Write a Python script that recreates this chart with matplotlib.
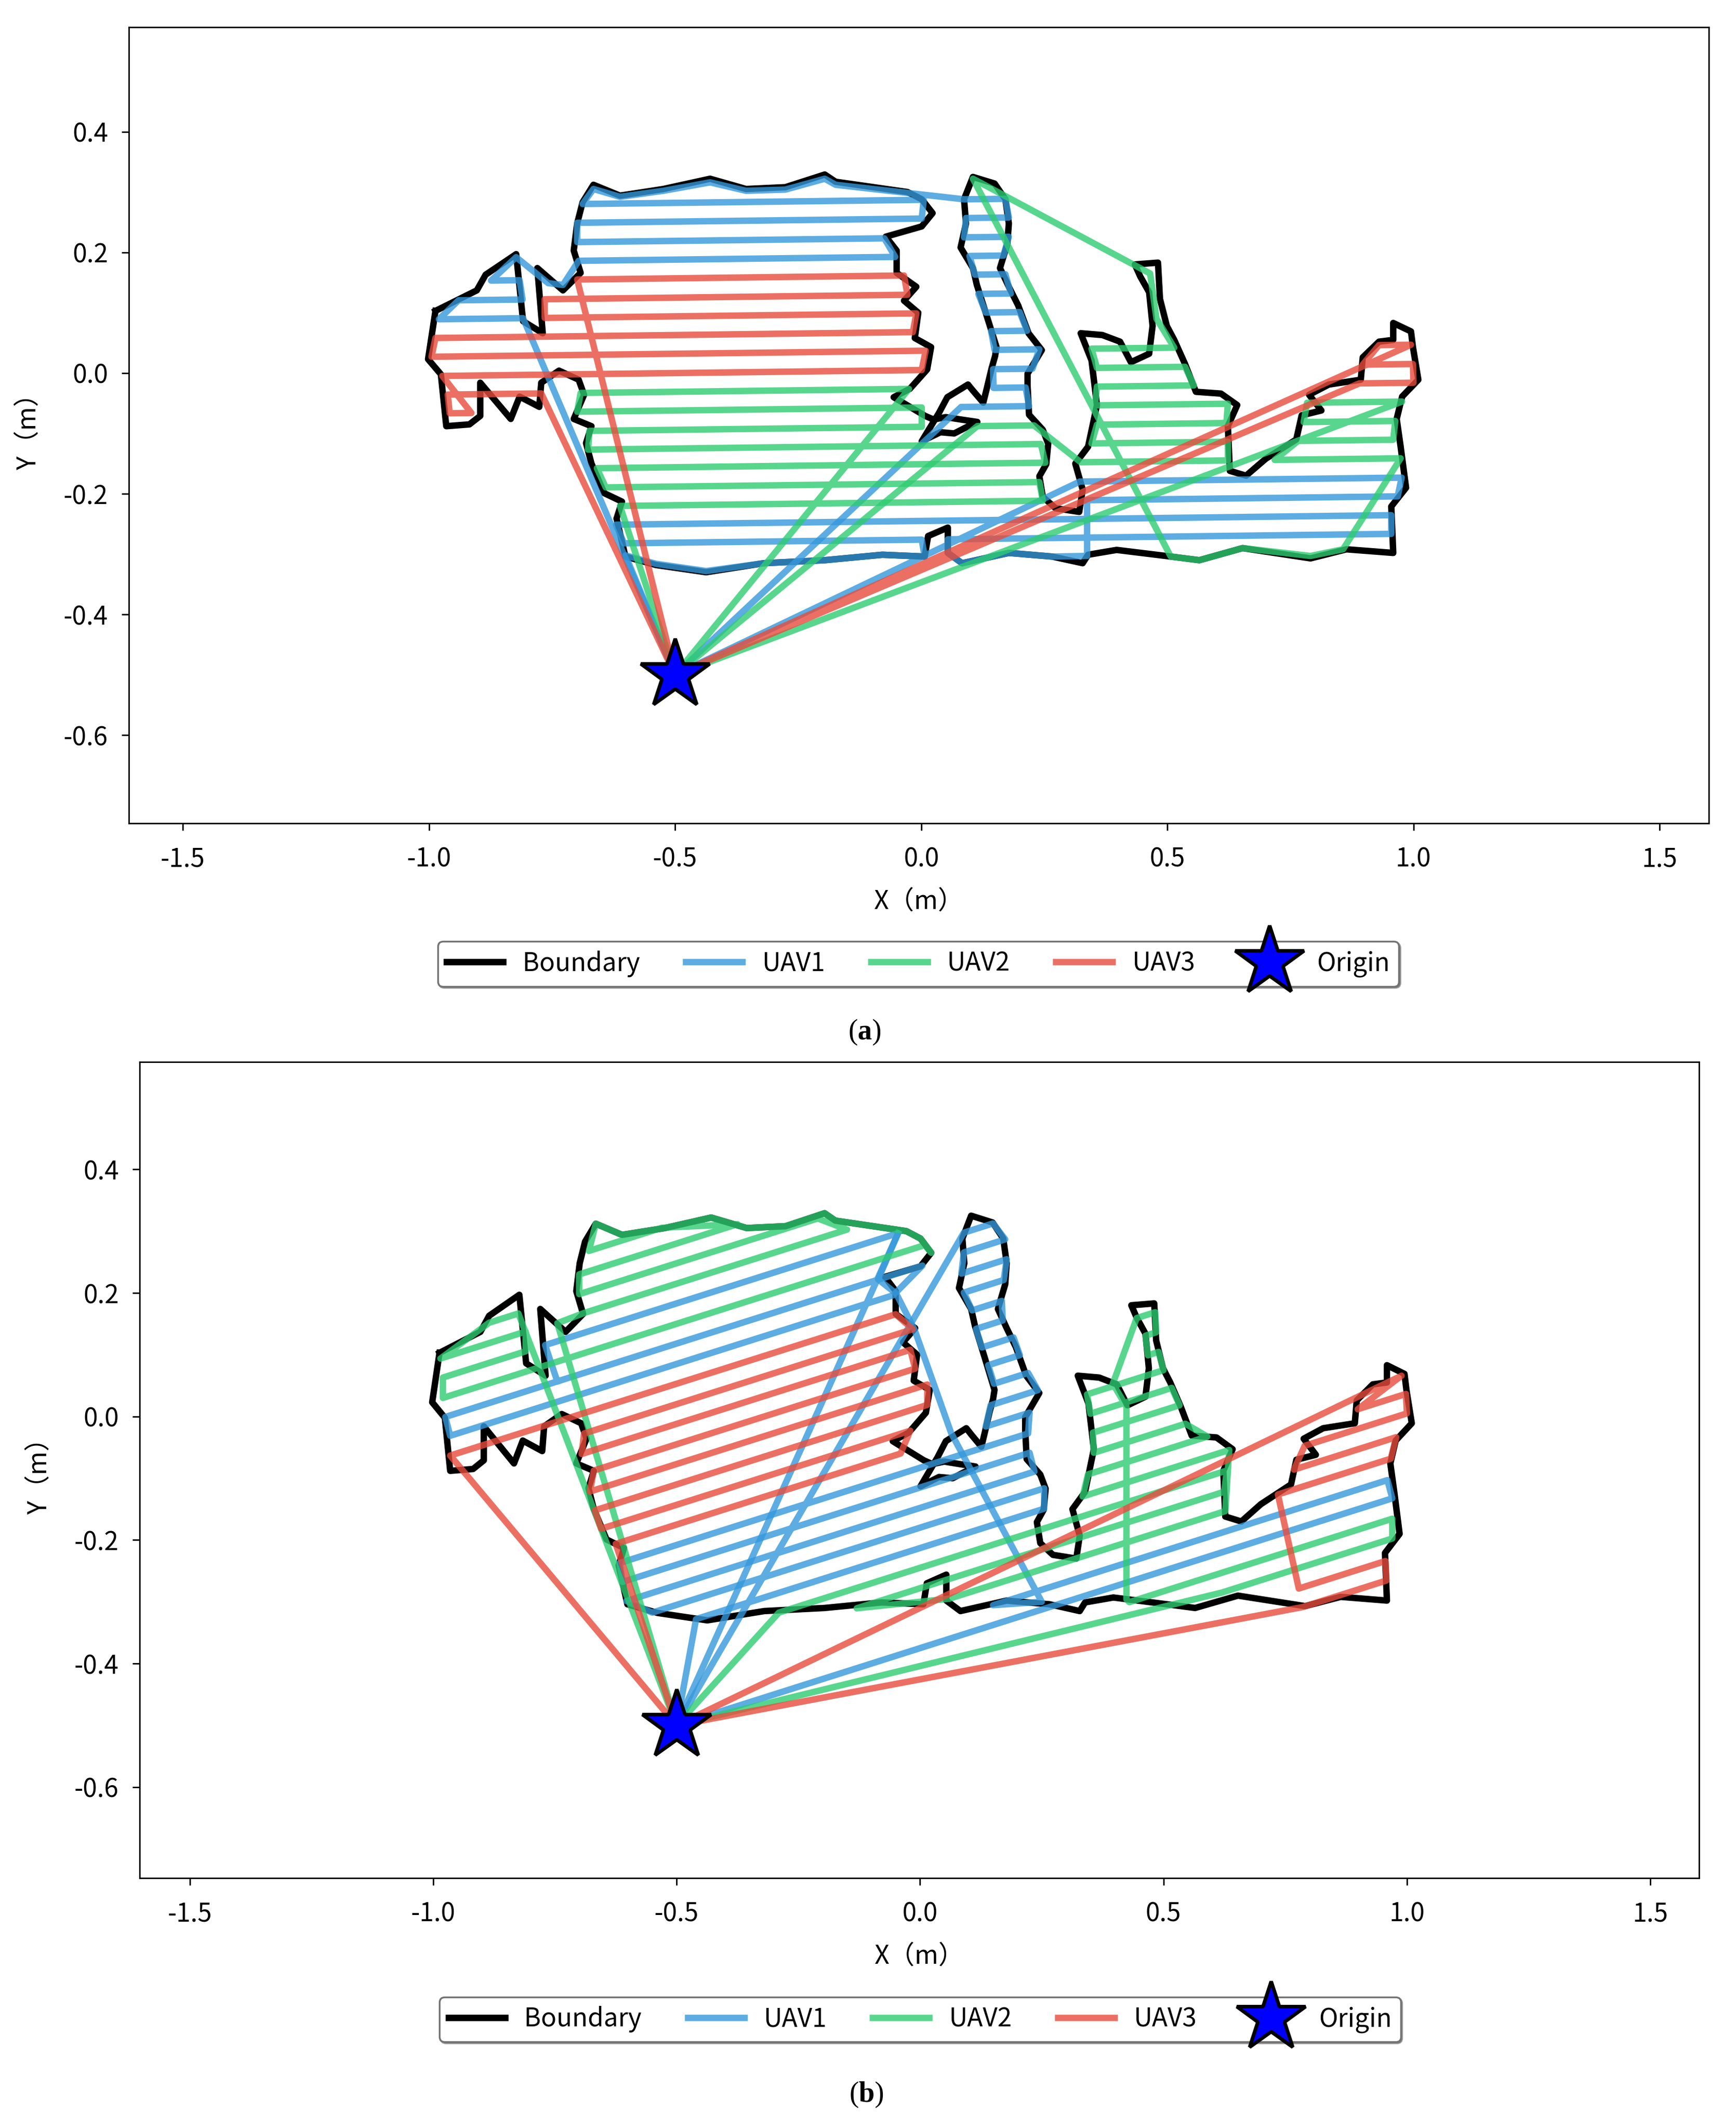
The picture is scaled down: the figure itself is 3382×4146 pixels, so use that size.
import matplotlib.pyplot as plt
from matplotlib.lines import Line2D

plt.rcParams['font.family'] = ['Noto Sans CJK SC', 'DejaVu Sans']
plt.rcParams['axes.unicode_minus'] = False
plt.rcParams['mathtext.fontset'] = 'custom'
plt.rcParams['mathtext.rm'] = 'Liberation Serif'
plt.rcParams['mathtext.bf'] = 'Liberation Serif:bold'

##### boundary of the survey area (same in both panels) #####
boundary_x = [-0.987, -0.903, -0.885, -0.823, -0.809, -0.769, -0.780, -0.728, -0.692, -0.706,
              -0.699, -0.688, -0.666, -0.612, -0.524, -0.429, -0.356, -0.276, -0.196, -0.174,
              -0.028, 0.001, 0.023, 0.001, -0.072, -0.050, -0.050, -0.010, -0.035, -0.006,
              -0.013, 0.020, 0.012, -0.023, -0.056, 0.008, 0.025, 0.050, 0.081, 0.114,
              0.091, 0.067, 0.039, 0.001, 0.036, 0.053, 0.095, 0.105, 0.126, 0.133,
              0.143, 0.150, 0.153, 0.131, 0.113, 0.105, 0.080, 0.091, 0.087, 0.105,
              0.149, 0.171, 0.178, 0.175, 0.160, 0.178, 0.197, 0.218, 0.245, 0.216,
              0.216, 0.219, 0.247, 0.258, 0.254, 0.240, 0.247, 0.273, 0.321, 0.328,
              0.313, 0.339, 0.357, 0.346, 0.324, 0.368, 0.404, 0.426, 0.463, 0.470,
              0.463, 0.445, 0.434, 0.481, 0.485, 0.499, 0.514, 0.536, 0.558, 0.609,
              0.642, 0.623, 0.627, 0.660, 0.700, 0.762, 0.773, 0.813, 0.788, 0.828,
              0.893, 0.897, 0.930, 0.959, 0.959, 0.995, 0.999, 1.010, 0.977, 0.966,
              0.974, 0.985, 0.955, 0.959, 0.864, 0.791, 0.653, 0.565, 0.507, 0.397,
              0.339, 0.328, 0.266, 0.178, 0.083, 0.054, 0.054, 0.014, 0.007, -0.079,
              -0.196, -0.320, -0.437, -0.539, -0.601, -0.619, -0.608, -0.644, -0.670, -0.681,
              -0.670, -0.706, -0.685, -0.696, -0.736, -0.772, -0.776, -0.816, -0.834, -0.896,
              -0.896, -0.918, -0.965, -0.976, -1.002]
boundary_y = [0.103, 0.137, 0.163, 0.197, 0.086, 0.066, 0.174, 0.137, 0.166, 0.203,
              0.248, 0.283, 0.312, 0.294, 0.305, 0.322, 0.305, 0.308, 0.329, 0.317,
              0.300, 0.288, 0.265, 0.243, 0.226, 0.203, 0.166, 0.143, 0.120, 0.100,
              0.058, 0.043, 0.006, -0.026, -0.040, -0.071, -0.077, -0.073, -0.077, -0.081,
              -0.090, -0.100, -0.098, -0.113, -0.066, -0.040, -0.019, -0.029, -0.049, -0.026,
              0.008, 0.028, 0.043, 0.100, 0.146, 0.174, 0.208, 0.248, 0.288, 0.325,
              0.314, 0.288, 0.248, 0.214, 0.174, 0.143, 0.112, 0.066, 0.038, -0.001,
              -0.021, -0.069, -0.094, -0.117, -0.151, -0.171, -0.205, -0.224, -0.230, -0.193,
              -0.150, -0.122, -0.053, 0.021, 0.066, 0.063, 0.052, 0.018, 0.032, 0.078,
              0.134, 0.160, 0.180, 0.183, 0.123, 0.078, 0.055, 0.015, -0.031, -0.034,
              -0.053, -0.088, -0.162, -0.170, -0.142, -0.110, -0.070, -0.062, -0.036, -0.019,
              -0.011, 0.026, 0.052, 0.055, 0.083, 0.069, 0.043, -0.011, -0.039, -0.076,
              -0.122, -0.190, -0.221, -0.298, -0.292, -0.307, -0.290, -0.310, -0.304, -0.293,
              -0.301, -0.315, -0.304, -0.298, -0.315, -0.298, -0.256, -0.270, -0.304, -0.301,
              -0.310, -0.315, -0.330, -0.318, -0.304, -0.241, -0.213, -0.199, -0.150, -0.116,
              -0.088, -0.076, -0.036, -0.011, 0.004, -0.016, -0.056, -0.039, -0.076, -0.016,
              -0.071, -0.085, -0.088, -0.002, 0.023]

origin = (-0.5, -0.5)

##### panel (a): almost horizontal sweep lines #####
# ('S', k, x) = point at x on sweep line k
levels_a = [0.287, 0.256, 0.224, 0.193, 0.162, 0.130, 0.099, 0.068, 0.037, 0.005,
            -0.026, -0.057, -0.089, -0.120, -0.151, -0.183, -0.214, -0.245, -0.276]
tilt_a = 0.01

uav1_a = [
    [origin, ('S', 6, -0.809), ('S', 6, -0.980), ('S', 5, -0.940), ('S', 5, -0.810),
     ('S', 4, -0.816), ('S', 4, -0.874), (-0.823, 0.192), (-0.758, 0.149), (-0.728, 0.146),
     ('S', 3, -0.696), ('S', 3, -0.053), ('S', 2, -0.075), ('S', 2, -0.699),
     ('S', 1, -0.699), ('S', 1, 0.001), ('S', 0, 0.005), ('S', 0, -0.688),
     (-0.666, 0.305), (-0.612, 0.292), (-0.524, 0.302), (-0.429, 0.316), (-0.356, 0.302),
     (-0.276, 0.304), (-0.196, 0.322), (-0.174, 0.312),
     ('S', 0, 0.087), ('S', 0, 0.171), ('S', 1, 0.178), ('S', 1, 0.091), ('S', 2, 0.087),
     ('S', 2, 0.178), ('S', 3, 0.167), ('S', 3, 0.098), ('S', 4, 0.109), ('S', 4, 0.171),
     ('S', 5, 0.182), ('S', 5, 0.116), ('S', 6, 0.131), ('S', 6, 0.200), ('S', 7, 0.215),
     ('S', 7, 0.142), ('S', 8, 0.149), ('S', 8, 0.240), ('S', 9, 0.226), ('S', 9, 0.146),
     ('S', 10, 0.147), ('S', 10, 0.212), ('S', 11, 0.219), ('S', 11, 0.081), origin],
    [origin, ('S', 15, 0.322), ('S', 15, 0.976), ('S', 16, 0.968), ('S', 16, 0.337),
     (0.337, -0.303), (0.266, -0.304), (0.178, -0.298), (0.083, -0.315), (0.054, -0.298),
     ('S', 18, 0.054), ('S', 18, 0.955), ('S', 17, 0.955), ('S', 17, -0.620),
     ('S', 18, -0.604), ('S', 18, 0.001), (0.007, -0.304), (-0.079, -0.301),
     (-0.196, -0.310), (-0.320, -0.315), (-0.437, -0.328), (-0.539, -0.316),
     (-0.601, -0.302), origin],
]
uav2_a = [
    [origin, ('S', 10, -0.025), ('S', 10, -0.692), ('S', 11, -0.699), ('S', 11, 0.001),
     ('S', 12, 0.001), ('S', 12, -0.674), ('S', 13, -0.677), ('S', 13, 0.243),
     ('S', 14, 0.252), ('S', 14, -0.659), ('S', 15, -0.641), ('S', 15, 0.240),
     ('S', 16, 0.247), ('S', 16, -0.612), origin],
    [origin, ('S', 12, 0.114), ('S', 12, 0.229), ('S', 14, 0.324), ('S', 14, 0.623),
     ('S', 13, 0.623), ('S', 13, 0.346), ('S', 12, 0.357), ('S', 12, 0.620),
     ('S', 11, 0.623), ('S', 11, 0.353), ('S', 10, 0.357), ('S', 10, 0.554),
     ('S', 9, 0.536), ('S', 9, 0.357), ('S', 8, 0.346), ('S', 8, 0.514),
     (0.478, 0.090), (0.465, 0.165), (0.105, 0.322), (0.507, -0.304), (0.565, -0.310),
     (0.653, -0.290), (0.791, -0.303), (0.857, -0.292),
     ('S', 14, 0.974), ('S', 14, 0.718), ('S', 13, 0.766), ('S', 13, 0.959),
     ('S', 12, 0.963), ('S', 12, 0.777), ('S', 11, 0.784), ('S', 11, 0.977), origin],
]
uav3_a = [
    [origin, ('S', 4, -0.699), ('S', 4, -0.035), ('S', 5, -0.028), ('S', 5, -0.765),
     ('S', 6, -0.765), ('S', 6, -0.010), ('S', 7, -0.017), ('S', 7, -0.987),
     ('S', 8, -0.995), ('S', 8, 0.009), ('S', 9, 0.001), ('S', 9, -0.973),
     ('S', 11, -0.914), ('S', 11, -0.958), ('S', 10, -0.962), ('S', 10, -0.772), origin],
    [origin, ('S', 10, 0.890), ('S', 10, 1.000), ('S', 9, 0.999), ('S', 9, 0.897),
     ('S', 8, 0.930), ('S', 8, 0.995), origin],
]

##### panel (b): tilted sweep lines #####
levels_b = [0.470, 0.438, 0.405, 0.373, 0.340, 0.308, 0.275, 0.243, 0.210, 0.178,
            0.145, 0.113, 0.080, 0.048, 0.015, -0.018, -0.050, -0.083, -0.115, -0.148,
            -0.180, -0.213, -0.245, -0.278, -0.310, -0.343, -0.375, -0.408, -0.440, -0.473,
            -0.505]
tilt_b = 0.25

uav1_b = [
    [origin, ('S', 5, -0.045), ('S', 5, -0.770), ('S', 7, -0.745), ('S', 7, 0.005),
     ('S', 8, -0.055), ('S', 8, -0.965), ('S', 7, -0.975), ('S', 7, -0.745)],
    [origin, ('S', 6, 0.090), ('S', 6, 0.150), ('S', 7, 0.175), ('S', 7, 0.090),
     ('S', 8, 0.085), ('S', 8, 0.178), ('S', 9, 0.172), ('S', 9, 0.090),
     ('S', 10, 0.107), ('S', 10, 0.168), ('S', 11, 0.170), ('S', 11, 0.115),
     ('S', 12, 0.127), ('S', 12, 0.192), ('S', 13, 0.205), ('S', 13, 0.140),
     ('S', 14, 0.152), ('S', 14, 0.222), ('S', 15, 0.242), ('S', 15, 0.145),
     ('S', 16, 0.135), ('S', 16, 0.225), ('S', 17, 0.222), ('S', 17, -0.617),
     ('S', 18, -0.611), ('S', 18, 0.225), ('S', 19, 0.235), ('S', 19, -0.603),
     ('S', 20, -0.550), ('S', 20, 0.255), ('S', 21, 0.255), ('S', 21, -0.460), origin],
    [('S', 5, -0.045), (-0.086, 0.222), (-0.049, 0.199), (-0.011, 0.140), (0.064, -0.027),
     (0.250, -0.300), ('S', 25, 0.150), ('S', 25, 0.960), ('S', 26, 0.970),
     ('S', 26, 0.310), origin],
]
uav2_b = [
    [origin, (-0.745, 0.151), ('S', 4, -0.690), ('S', 4, -0.150), ('S', 3, -0.210),
     ('S', 3, -0.700), ('S', 2, -0.700), ('S', 2, -0.375), ('S', 1, -0.530),
     ('S', 1, -0.680), (-0.666, 0.312), (-0.612, 0.294), (-0.524, 0.305), (-0.429, 0.322),
     (-0.356, 0.305), (-0.276, 0.308), (-0.196, 0.329), (-0.174, 0.317), (-0.028, 0.300),
     (0.001, 0.288), (0.023, 0.265), ('S', 6, 0.010), ('S', 6, -0.980), ('S', 5, -0.980),
     ('S', 5, -0.810), ('S', 4, -0.810), ('S', 4, -0.985), ('S', 3, -0.885),
     ('S', 3, -0.825), origin],
    [origin, ('S', 22, -0.290), ('S', 22, 0.630), ('S', 23, 0.625), ('S', 23, -0.130),
     ('S', 24, 0.060), ('S', 24, 0.627), ('S', 21, 0.635), ('S', 21, 0.334),
     ('S', 20, 0.345), ('S', 20, 0.590), ('S', 19, 0.545), ('S', 19, 0.357),
     ('S', 18, 0.355), ('S', 18, 0.533), ('S', 17, 0.517), ('S', 17, 0.350),
     ('S', 16, 0.343), ('S', 16, 0.500), ('S', 15, 0.490), ('S', 15, 0.468),
     ('S', 14, 0.463), ('S', 14, 0.485), ('S', 13, 0.483), ('S', 13, 0.445),
     (0.396, 0.053), (0.424, 0.016), (0.424, -0.296), ('S', 27, 0.430), ('S', 27, 0.970),
     ('S', 28, 0.970), ('S', 28, 0.620), origin],
]
uav3_b = [
    [origin, ('S', 9, -0.965), ('S', 9, -0.050), ('S', 10, -0.015), ('S', 10, -0.690),
     ('S', 11, -0.695), ('S', 11, -0.020), ('S', 12, -0.010), ('S', 12, -0.670),
     ('S', 13, -0.678), ('S', 13, 0.015), ('S', 14, 0.015), ('S', 14, -0.668),
     ('S', 15, -0.655), ('S', 15, -0.020), ('S', 16, -0.040), ('S', 16, -0.625), origin],
    [origin, (0.989, 0.066), ('S', 21, 0.899), ('S', 21, 0.998), ('S', 22, 1.000),
     ('S', 22, 0.790), ('S', 23, 0.768), ('S', 23, 0.978), ('S', 24, 0.967),
     ('S', 24, 0.735), ('S', 29, 0.778), ('S', 29, 0.956), ('S', 30, 0.958),
     ('S', 30, 0.786), origin],
]

x_ticks = [-1.5, -1.0, -0.5, 0.0, 0.5, 1.0, 1.5]
y_ticks = [-0.6, -0.4, -0.2, 0.0, 0.2, 0.4]

uav_colors = ['#3498db', '#2ecc71', '#e74c3c']
uav_names = ['UAV1', 'UAV2', 'UAV3']
FS = 36
LW = 9


def resolve(p, levels, tilt):
    if p[0] == 'S':
        return p[2], levels[p[1]] + tilt * p[2]
    return p


def draw_panel(ax, levels, tilt, uavs, xlim, ylim):
    ax.plot(boundary_x + boundary_x[:1], boundary_y + boundary_y[:1],
            color='black', lw=LW, zorder=1)
    for legs, c in zip(uavs, uav_colors):
        for leg in legs:
            pts = [resolve(p, levels, tilt) for p in leg]
            ax.plot([p[0] for p in pts], [p[1] for p in pts], color=c, lw=LW,
                    alpha=0.8, zorder=2)
    ax.plot(origin[0], origin[1], marker='*', ms=102, mfc='blue', mec='black',
            mew=5, ls='none', zorder=5)
    ax.set_xlim(xlim)
    ax.set_ylim(ylim)
    ax.set_xticks(x_ticks)
    ax.set_yticks(y_ticks)
    ax.set_xticklabels(['%.1f' % v for v in x_ticks])
    ax.set_yticklabels(['%.1f' % v for v in y_ticks])
    ax.tick_params(labelsize=FS, length=10, width=2)
    ax.tick_params(axis='x', pad=22)
    ax.tick_params(axis='y', pad=19)
    for s in ax.spines.values():
        s.set_linewidth(2)
    ax.set_xlabel('X（m）', fontsize=FS, labelpad=22)
    ax.set_ylabel('Y（m）', fontsize=FS, labelpad=30)


def add_legend(fig, center):
    handles = [Line2D([], [], color='black', lw=LW)]
    for c in uav_colors:
        handles.append(Line2D([], [], color=c, lw=LW, alpha=0.8))
    handles.append(Line2D([], [], marker='*', ms=102, mfc='blue', mec='black',
                          mew=5, ls='none'))
    leg = fig.legend(handles, ['Boundary'] + uav_names + ['Origin'], loc='center',
                     bbox_to_anchor=center, ncol=5, fontsize=FS, fancybox=True,
                     shadow=True, handlelength=2.2, handletextpad=0.75,
                     columnspacing=1.8, borderpad=0.35, framealpha=1)
    leg.get_frame().set_edgecolor('0.45')
    leg.get_frame().set_linewidth(2.5)


fig = plt.figure(figsize=(33.82, 41.46), dpi=100)

ax_a = fig.add_axes([0.0742, 0.6131, 0.9101, 0.3741])
draw_panel(ax_a, levels_a, tilt_a, [uav1_a, uav2_a, uav3_a], (-1.61, 1.60), (-0.746, 0.573))
add_legend(fig, (0.529, 0.547))
fig.text(0.498, 0.515, r'($\mathbf{a}$)', ha='center', va='center', fontsize=40,
         family='Liberation Serif')

ax_b = fig.add_axes([0.0804, 0.1175, 0.8983, 0.3835])
draw_panel(ax_b, levels_b, tilt_b, [uav1_b, uav2_b, uav3_b], (-1.603, 1.60), (-0.747, 0.574))
add_legend(fig, (0.530, 0.051))
fig.text(0.499, 0.0155, r'($\mathbf{b}$)', ha='center', va='center', fontsize=40,
         family='Liberation Serif')

fig.savefig('out.png', dpi=100)
